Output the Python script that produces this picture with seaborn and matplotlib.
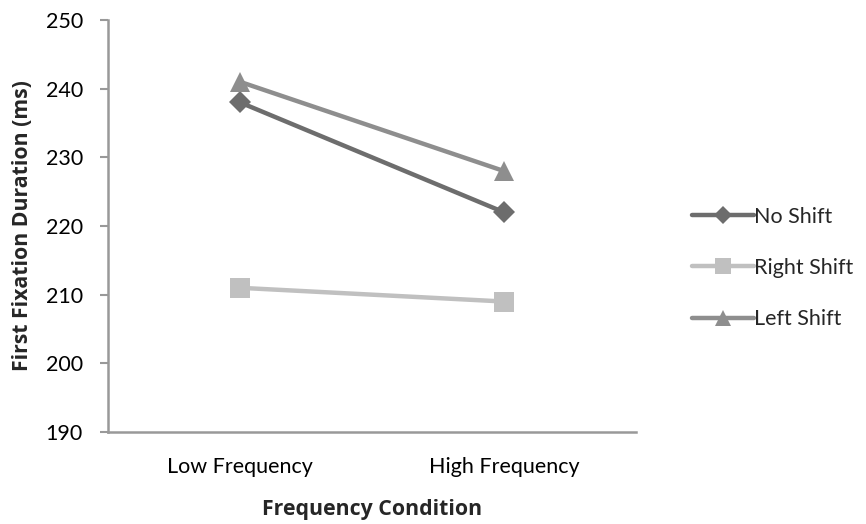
import matplotlib
matplotlib.use("Agg")
import matplotlib.pyplot as plt
import seaborn as sns
import pandas as pd
from matplotlib.lines import Line2D

conditions = ["Low Frequency", "High Frequency"]
series = ["No Shift", "Right Shift", "Left Shift"]
no_shift = [238, 222]
right_shift = [211, 209]
left_shift = [241, 228]
y_ticks = [190, 200, 210, 220, 230, 240, 250]

colors = {"No Shift": "#6d6d6d", "Right Shift": "#c0c0c0", "Left Shift": "#8e8e8e"}
markers = {"No Shift": "D", "Right Shift": "s", "Left Shift": "^"}
msizes = {"No Shift": 11, "Right Shift": 14, "Left Shift": 14}

df = pd.DataFrame({
    "Frequency Condition": conditions * 3,
    "Duration": no_shift + right_shift + left_shift,
    "Shift": [s for s in series for _ in conditions],
})
df["pos"] = df["Frequency Condition"].map({c: i for i, c in enumerate(conditions)})

sns.set_theme(style="white")
plt.rcParams["font.family"] = ["Lato", "DejaVu Sans"]

fig = plt.figure(figsize=(8.66, 5.24), dpi=100)
ax = fig.add_axes([108 / 866, 1 - 432 / 524, (636 - 108) / 866, (432 - 20) / 524])

for s in series:
    sub = df[df["Shift"] == s]
    sns.lineplot(data=sub, x="pos", y="Duration", ax=ax, color=colors[s],
                 linewidth=3.2, marker=markers[s], markersize=msizes[s],
                 markeredgewidth=0, legend=False)

ax.set_xlim(-0.5, 1.5)
ax.set_ylim(190, 250)
ax.set_xticks(range(len(conditions)))
ax.set_xticklabels(conditions)
ax.set_yticks(y_ticks)
ax.tick_params(axis="x", length=0, pad=18, labelsize=15.5, colors="black")
ax.tick_params(axis="y", length=6, width=1.5, color="#999999", pad=12,
               labelsize=15.5, labelcolor="black", direction="out", left=True)

for side in ["top", "right"]:
    ax.spines[side].set_visible(False)
for side in ["left", "bottom"]:
    ax.spines[side].set_color("#999999")
    ax.spines[side].set_linewidth(1.8)

label_font = dict(family=["Open Sans", "DejaVu Sans"], fontsize=15.3, fontweight="bold")
ax.set_xlabel("Frequency Condition", labelpad=16, **label_font)
ax.set_ylabel("First Fixation Duration (ms)", labelpad=9, **label_font)

handles = [Line2D([0], [0], color=colors[s], linewidth=3.2, marker=markers[s],
                  markersize=msizes[s] * 0.85, markeredgewidth=0) for s in series]
fig.legend(handles, series, loc="center left", bbox_to_anchor=(692 / 866, 1 - 268 / 524),
           frameon=False, fontsize=15.5, handlelength=2.9, handletextpad=0.0,
           labelspacing=1.45, borderaxespad=0, borderpad=0)

fig.savefig("out.png", dpi=100, facecolor="white")
